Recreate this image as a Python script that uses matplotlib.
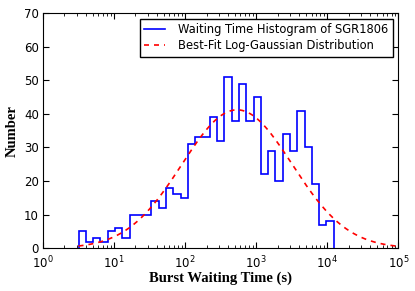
import matplotlib
matplotlib.use('Agg')
import matplotlib.pyplot as plt
import numpy as np

# histogram of waiting times, 35 log-spaced bins between ~3.2 s and ~12300 s
log_lo = 0.50
log_hi = 4.09
counts = [5, 2, 3, 2, 5, 6, 3, 10, 10, 10,
          14, 12, 18, 16, 15, 31, 33, 33, 39, 32,
          51, 38, 49, 38, 45, 22, 29, 20, 34, 29,
          41, 30, 19, 7, 8]

# best-fit log-gaussian (in log10 t)
fit_amp = 41.2
fit_mu = 2.73
fit_sigma = 0.775

edges = 10 ** np.linspace(log_lo, log_hi, len(counts) + 1)
t = np.logspace(log_lo, 5, 400)
model = fit_amp * np.exp(-(np.log10(t) - fit_mu) ** 2 / (2 * fit_sigma ** 2))

fig = plt.figure(figsize=(4.15, 2.91), dpi=100)
ax = fig.add_axes([0.1036, 0.147, 0.8564, 0.808])

ax.stairs(counts, edges, color='blue', lw=1.2, baseline=0,
          label='Waiting Time Histogram of SGR1806')
ax.plot(t, model, color='red', ls=(0, (3, 3)), lw=1.2,
        label='Best-Fit Log-Gaussian Distribution')

ax.set_xscale('log')
ax.set_xlim(1, 1e5)
ax.set_ylim(0, 70)
ax.set_yticks(range(0, 71, 10))

ax.tick_params(which='both', direction='in', top=True, right=True, labelsize=8.5)
ax.tick_params(which='major', length=4)
ax.tick_params(which='minor', length=2)
ax.tick_params(axis='y', pad=3)
ax.tick_params(axis='x', pad=5)

ax.set_xlabel('Burst Waiting Time (s)', fontsize=10.5, fontweight='bold',
              family='Liberation Serif', labelpad=0)
ax.set_ylabel('Number', fontsize=10.5, fontweight='bold',
              family='Liberation Serif', labelpad=4)

leg = ax.legend(loc='upper right', fontsize=8.3, fancybox=False,
                edgecolor='black', framealpha=1, handlelength=1.8,
                handletextpad=1.1, labelspacing=0.25, borderpad=0.4,
                borderaxespad=0.5)
leg.get_frame().set_linewidth(1.0)

fig.savefig('out.png', dpi=100)
